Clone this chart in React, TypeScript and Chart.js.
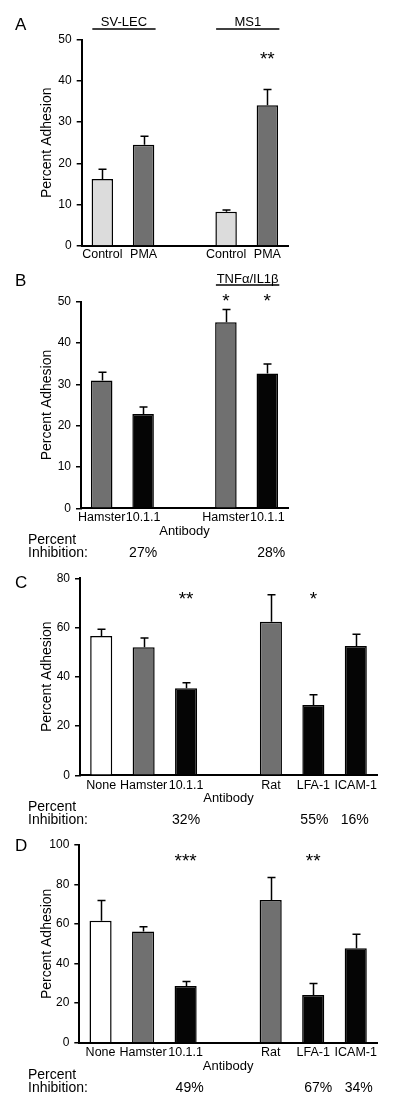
import React, { useEffect, useRef } from 'react';
import { Chart, registerables } from 'chart.js';

Chart.register(...registerables);

const FONT = '"Liberation Sans", Arial, Helvetica, sans-serif';
Chart.defaults.font.family = FONT;
Chart.defaults.color = '#000';

// ---------- Data ----------
// Panel A
const aCategories = ['Control', 'PMA', '', 'Control', 'PMA'];
const aValues = [16.2, 24.5, null, 8.3, 34.1];
const aErrors = [2.4, 2.1, null, 0.4, 3.8];
const aYTicks = { max: 50, step: 10 };

// Panel B
const bCategories = ['Hamster', '10.1.1', '', 'Hamster', '10.1.1'];
const bValues = [30.9, 22.8, null, 45.0, 32.6];
const bErrors = [2.0, 1.7, null, 3.1, 2.3];
const bYTicks = { max: 50, step: 10 };
const bInhibition = [
  { idx: 1, text: '27%' },
  { idx: 4, text: '28%' },
];

// Panel C
const cCategories = ['None', 'Hamster', '10.1.1', '', 'Rat', 'LFA-1', 'ICAM-1'];
const cValues = [56.6, 52.0, 35.3, null, 62.4, 28.5, 52.5];
const cErrors = [2.7, 3.8, 2.3, null, 10.9, 4.2, 4.8];
const cYTicks = { max: 80, step: 20 };
const cInhibition = [
  { idx: 2, text: '32%' },
  { idx: 5, text: '55%' },
  { idx: 6, text: '16%' },
];

// Panel D
const dCategories = ['None', 'Hamster', '10.1.1', '', 'Rat', 'LFA-1', 'ICAM-1'];
const dValues = [61.7, 56.2, 28.7, null, 72.2, 24.1, 47.8];
const dErrors = [10.2, 2.5, 2.2, null, 11.3, 5.9, 7.0];
const dYTicks = { max: 100, step: 20 };
const dInhibition = [
  { idx: 2, text: '49%' },
  { idx: 5, text: '67%' },
  { idx: 6, text: '34%' },
];

// ---------- Styles ----------
const LIGHT = '#dcdcdc';
const GRAY = '#707070';
const BLACK = '#050505';
const WHITE = '#ffffff';
const aColors = [LIGHT, GRAY, WHITE, LIGHT, GRAY];
const bColors = [GRAY, BLACK, WHITE, GRAY, BLACK];
const cColors = [WHITE, GRAY, BLACK, WHITE, GRAY, BLACK, BLACK];
const dColors = [WHITE, GRAY, BLACK, WHITE, GRAY, BLACK, BLACK];

type Group = { text: string; from: number; to: number; y: number; lineY: number };
type Star = { text: string; idx: number; y: number };
type Inh = { idx: number; text: string };

type Panel = {
  canvasTop: number;
  height: number;
  area: { top: number; bottom: number; left: number; right: number };
  xAxisH: number;
  xTitle: string | null;
  tickPad: number;
  categories: string[];
  values: (number | null)[];
  errors: (number | null)[];
  colors: string[];
  yTicks: { max: number; step: number };
  letter: { text: string; y: number };
  groups: Group[];
  stars: Star[];
  inhibition: { items: Inh[]; dx: number[]; y1: number; y2: number } | null;
};

const panels: Panel[] = [
  {
    canvasTop: 0,
    height: 270,
    area: { top: 39.5, bottom: 246, left: 81.7, right: 288 },
    xAxisH: 20,
    xTitle: null,
    tickPad: 1.5,
    categories: aCategories,
    values: aValues,
    errors: aErrors,
    colors: aColors,
    yTicks: aYTicks,
    letter: { text: 'A', y: 25 },
    groups: [
      { text: 'SV-LEC', from: 0, to: 1, y: 22.7, lineY: 29 },
      { text: 'MS1', from: 3, to: 4, y: 22.7, lineY: 29 },
    ],
    stars: [{ text: '**', idx: 4, y: 54 }],
    inhibition: null,
  },
  {
    canvasTop: 270,
    height: 290,
    area: { top: 31.7, bottom: 238.3, left: 81, right: 288 },
    xAxisH: 31.2,
    xTitle: 'Antibody',
    tickPad: 1.5,
    categories: bCategories,
    values: bValues,
    errors: bErrors,
    colors: bColors,
    yTicks: bYTicks,
    letter: { text: 'B', y: 11.7 },
    groups: [{ text: 'TNF\u03b1/IL1\u03b2', from: 3, to: 4, y: 9.3, lineY: 15 }],
    stars: [
      { text: '*', idx: 3, y: 26 },
      { text: '*', idx: 4, y: 26 },
    ],
    inhibition: { items: bInhibition, dx: [0, 4], y1: 270, y2: 283.3 },
  },
  {
    canvasTop: 560,
    height: 270,
    area: { top: 18.3, bottom: 215.3, left: 80, right: 377 },
    xAxisH: 31,
    xTitle: 'Antibody',
    tickPad: 2.5,
    categories: cCategories,
    values: cValues,
    errors: cErrors,
    colors: cColors,
    yTicks: cYTicks,
    letter: { text: 'C', y: 23.3 },
    groups: [],
    stars: [
      { text: '**', idx: 2, y: 34 },
      { text: '*', idx: 5, y: 34 },
    ],
    inhibition: { items: cInhibition, dx: [0, 1, -1], y1: 246.7, y2: 260 },
  },
  {
    canvasTop: 830,
    height: 281,
    area: { top: 15, bottom: 212.7, left: 79.3, right: 377 },
    xAxisH: 31.8,
    xTitle: 'Antibody',
    tickPad: 2.5,
    categories: dCategories,
    values: dValues,
    errors: dErrors,
    colors: dColors,
    yTicks: dYTicks,
    letter: { text: 'D', y: 16.7 },
    groups: [],
    stars: [
      { text: '***', idx: 2, y: 25.5 },
      { text: '**', idx: 5, y: 25.5 },
    ],
    inhibition: { items: dInhibition, dx: [4, 5, 3], y1: 245, y2: 258.3 },
  },
];

function makePlugin(p: Panel) {
  return {
    id: 'panelExtras',
    afterDatasetsDraw(chart: any) {
      const ctx = chart.ctx as CanvasRenderingContext2D;
      const yScale = chart.scales.y;
      const meta = chart.getDatasetMeta(0);
      ctx.save();
      ctx.strokeStyle = '#000';
      ctx.lineWidth = 1.5;
      meta.data.forEach((bar: any, i: number) => {
        const v = p.values[i];
        const e = p.errors[i];
        if (v == null || e == null) return;
        const top = yScale.getPixelForValue(v + e);
        const x = Math.round(bar.x) + 0.5;
        ctx.beginPath();
        ctx.moveTo(x, bar.y);
        ctx.lineTo(x, top);
        ctx.moveTo(x - 4, top);
        ctx.lineTo(x + 4, top);
        ctx.stroke();
      });
      ctx.restore();
    },
    afterDraw(chart: any) {
      const ctx = chart.ctx as CanvasRenderingContext2D;
      const xScale = chart.scales.x;
      const px = (i: number) => xScale.getPixelForValue(i);
      ctx.save();
      ctx.fillStyle = '#000';
      ctx.strokeStyle = '#000';

      // panel letter
      ctx.font = `17px ${FONT}`;
      ctx.textAlign = 'left';
      ctx.textBaseline = 'middle';
      ctx.fillText(p.letter.text, 15, p.letter.y);

      // group labels with underline
      p.groups.forEach((g) => {
        const x0 = px(g.from) - 10;
        const x1 = px(g.to) + 12;
        ctx.font = `13px ${FONT}`;
        ctx.textAlign = 'center';
        ctx.textBaseline = 'middle';
        ctx.fillText(g.text, (x0 + x1) / 2, g.y);
        ctx.lineWidth = 1.5;
        ctx.beginPath();
        ctx.moveTo(x0, g.lineY);
        ctx.lineTo(x1, g.lineY);
        ctx.stroke();
      });

      // significance stars
      ctx.font = `19px ${FONT}`;
      ctx.textAlign = 'center';
      ctx.textBaseline = 'alphabetic';
      p.stars.forEach((s) => {
        ctx.fillText(s.text, px(s.idx), s.y + 11);
      });

      // percent inhibition
      if (p.inhibition) {
        const inh = p.inhibition;
        ctx.font = `14px ${FONT}`;
        ctx.textBaseline = 'middle';
        ctx.textAlign = 'left';
        ctx.fillText('Percent', 28, inh.y1);
        ctx.fillText('Inhibition:', 28, inh.y2);
        ctx.textAlign = 'center';
        inh.items.forEach((it, k) => {
          ctx.fillText(it.text, px(it.idx) + (inh.dx[k] || 0), inh.y2);
        });
      }
      ctx.restore();
    },
  };
}

function PanelChart({ p }: { p: Panel }) {
  const ref = useRef<HTMLCanvasElement | null>(null);
  useEffect(() => {
    if (!ref.current) return;
    const a = p.area;
    const chart = new Chart(ref.current, {
      type: 'bar',
      data: {
        labels: p.categories,
        datasets: [
          {
            data: p.values as any,
            backgroundColor: p.colors,
            borderColor: '#000',
            borderWidth: 1.5,
            barPercentage: 0.52,
            categoryPercentage: 1,
          },
        ],
      },
      options: {
        animation: false,
        responsive: false,
        maintainAspectRatio: false,
        devicePixelRatio: 1,
        layout: {
          padding: {
            left: 0,
            top: a.top,
            right: 400 - a.right,
            bottom: p.height - a.bottom - p.xAxisH,
          },
        },
        plugins: {
          legend: { display: false },
          tooltip: { enabled: false },
        },
        scales: {
          x: {
            offset: true,
            grid: { display: false, drawTicks: false },
            border: { display: true, color: '#000', width: 2 },
            ticks: {
              autoSkip: false,
              maxRotation: 0,
              minRotation: 0,
              padding: p.tickPad,
              color: '#000',
              font: { size: 12.5, family: FONT },
            },
            title: {
              display: !!p.xTitle,
              text: p.xTitle || '',
              color: '#000',
              font: { size: 13, family: FONT },
              padding: 0,
            },
            afterFit: (s: any) => {
              s.height = p.xAxisH;
            },
          },
          y: {
            min: 0,
            max: p.yTicks.max,
            grid: {
              display: true,
              drawOnChartArea: false,
              drawTicks: true,
              tickLength: 5,
              color: '#000',
              lineWidth: 1.5,
            },
            border: { display: true, color: '#000', width: 2 },
            ticks: {
              stepSize: p.yTicks.step,
              padding: 5,
              color: '#000',
              font: { size: 12, family: FONT },
            },
            title: {
              display: true,
              text: 'Percent Adhesion',
              color: '#000',
              font: { size: 14, family: FONT },
              padding: { top: 38.4, bottom: 0 },
            },
            afterFit: (s: any) => {
              s.width = a.left;
            },
          },
        },
      },
      plugins: [makePlugin(p)],
    });
    return () => chart.destroy();
  }, [p]);
  return (
    <canvas
      ref={ref}
      width={400}
      height={p.height}
      style={{ position: 'absolute', left: 0, top: p.canvasTop, width: 400, height: p.height, display: 'block' }}
    />
  );
}

export default function App() {
  return (
    <div style={{ position: 'absolute', left: 0, top: 0, width: 400, height: 1111, background: '#fff' }}>
      {panels.map((p, i) => (
        <PanelChart key={i} p={p} />
      ))}
    </div>
  );
}
